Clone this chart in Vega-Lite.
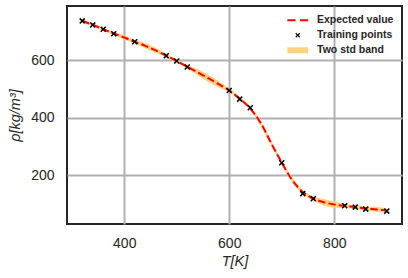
{
  "$schema": "https://vega.github.io/schema/vega-lite/v6.json",
  "width": 335,
  "height": 218,
  "autosize": {"type": "none"},
  "padding": {"left": 67, "top": 6, "right": 6, "bottom": 54},
  "background": "white",
  "config": {
    "font": "Liberation Sans",
    "view": {"stroke": "#262626", "strokeWidth": 2},
    "axis": {
      "gridColor": "#b0b0b0",
      "gridWidth": 2,
      "tickSize": 0,
      "domainColor": "transparent",
      "labelFontSize": 14,
      "labelColor": "#262626",
      "titleFontSize": 14.5,
      "titleFontWeight": "normal",
      "titleFontStyle": "italic",
      "titleColor": "#262626"
    }
  },
  "datasets": {
    "curve": [
      {"T": 320, "mean": 738, "lo": 733, "hi": 743},
      {"T": 340, "mean": 724, "lo": 719, "hi": 729},
      {"T": 360, "mean": 709, "lo": 704, "hi": 714},
      {"T": 380, "mean": 694, "lo": 689, "hi": 699},
      {"T": 400, "mean": 680, "lo": 672, "hi": 688},
      {"T": 420, "mean": 665, "lo": 659, "hi": 671},
      {"T": 440, "mean": 651, "lo": 642, "hi": 660},
      {"T": 460, "mean": 635, "lo": 626, "hi": 644},
      {"T": 480, "mean": 617, "lo": 611, "hi": 623},
      {"T": 500, "mean": 598, "lo": 592, "hi": 604},
      {"T": 520, "mean": 578, "lo": 572, "hi": 584},
      {"T": 540, "mean": 558, "lo": 547, "hi": 569},
      {"T": 560, "mean": 538, "lo": 525, "hi": 551},
      {"T": 580, "mean": 517, "lo": 506, "hi": 528},
      {"T": 600, "mean": 495, "lo": 489, "hi": 501},
      {"T": 620, "mean": 466, "lo": 460, "hi": 472},
      {"T": 640, "mean": 432, "lo": 426, "hi": 438},
      {"T": 660, "mean": 381, "lo": 372, "hi": 390},
      {"T": 680, "mean": 311, "lo": 302, "hi": 320},
      {"T": 700, "mean": 243, "lo": 236, "hi": 250},
      {"T": 720, "mean": 182, "lo": 173, "hi": 191},
      {"T": 740, "mean": 141, "lo": 134, "hi": 148},
      {"T": 760, "mean": 118, "lo": 111, "hi": 125},
      {"T": 780, "mean": 105, "lo": 94, "hi": 116},
      {"T": 800, "mean": 97, "lo": 86, "hi": 108},
      {"T": 820, "mean": 92, "lo": 85, "hi": 99},
      {"T": 840, "mean": 88, "lo": 81, "hi": 95},
      {"T": 860, "mean": 83, "lo": 76, "hi": 90},
      {"T": 880, "mean": 80, "lo": 71, "hi": 89},
      {"T": 900, "mean": 76, "lo": 69, "hi": 83}
    ],
    "points": [
      {"T": 320, "rho": 738, "series": "Training points"},
      {"T": 340, "rho": 724, "series": "Training points"},
      {"T": 360, "rho": 709, "series": "Training points"},
      {"T": 380, "rho": 693, "series": "Training points"},
      {"T": 420, "rho": 665, "series": "Training points"},
      {"T": 480, "rho": 616, "series": "Training points"},
      {"T": 500, "rho": 598, "series": "Training points"},
      {"T": 520, "rho": 577, "series": "Training points"},
      {"T": 600, "rho": 495, "series": "Training points"},
      {"T": 620, "rho": 465, "series": "Training points"},
      {"T": 640, "rho": 435, "series": "Training points"},
      {"T": 700, "rho": 243, "series": "Training points"},
      {"T": 740, "rho": 135, "series": "Training points"},
      {"T": 760, "rho": 117, "series": "Training points"},
      {"T": 820, "rho": 93, "series": "Training points"},
      {"T": 840, "rho": 88, "series": "Training points"},
      {"T": 860, "rho": 81, "series": "Training points"},
      {"T": 900, "rho": 74, "series": "Training points"}
    ]
  },
  "encoding": {
    "x": {
      "field": "T",
      "type": "quantitative",
      "scale": {"domain": [291, 929], "nice": false, "zero": false},
      "axis": {"values": [400, 600, 800], "grid": true, "title": "T[K]", "labelPadding": 12, "titlePadding": 4}
    }
  },
  "layer": [
    {
      "data": {"name": "curve"},
      "mark": {"type": "area", "interpolate": "monotone", "fill": "#ffd27f", "opacity": 1},
      "encoding": {
        "y": {
          "field": "lo",
          "type": "quantitative",
          "scale": {"domain": [29, 790], "nice": false, "zero": false},
          "axis": {"values": [200, 400, 600], "grid": true, "title": "ρ[kg/m³]", "labelPadding": 13, "titlePadding": 8}
        },
        "y2": {"field": "hi"}
      }
    },
    {
      "data": {"name": "curve"},
      "mark": {"type": "line", "interpolate": "monotone", "stroke": "#ff0000", "strokeWidth": 2, "strokeDash": [7.4, 3.2]},
      "encoding": {
        "y": {"field": "mean", "type": "quantitative"}
      }
    },
    {
      "data": {"name": "points"},
      "mark": {"type": "point", "filled": true, "opacity": 1, "size": 100, "strokeWidth": 0},
      "encoding": {
        "y": {"field": "rho", "type": "quantitative"},
        "color": {
          "field": "series",
          "type": "nominal",
          "scale": {
            "domain": ["Expected value", "Training points", "Two std band"],
            "range": ["#ff0000", "#000000", "#ffd27f"]
          },
          "legend": {
            "title": null,
            "orient": "none",
            "legendX": 225.5,
            "legendY": 9,
            "padding": 0,
            "symbolSize": 64,
            "symbolStrokeWidth": 0,
            "symbolOpacity": 1,
            "labelOffset": 14,
            "labelFontSize": 10.5,
            "labelFontWeight": "bold",
            "labelColor": "#262626",
            "rowPadding": 4
          }
        },
        "shape": {
          "field": "series",
          "type": "nominal",
          "scale": {
            "domain": ["Expected value", "Training points", "Two std band"],
            "range": [
              "M-2.6,-0.25H-0.55V0.25H-2.6Z M0.55,-0.25H2.6V0.25H0.55Z",
              "M-0.394,0.606L0,0.212L0.394,0.606L0.606,0.394L0.212,0L0.606,-0.394L0.394,-0.606L0,-0.212L-0.394,-0.606L-0.606,-0.394L-0.212,0L-0.606,0.394Z",
              "M-2.6,-0.75H2.6V0.75H-2.6Z"
            ]
          },
          "legend": {
            "title": null,
            "orient": "none",
            "legendX": 225.5,
            "legendY": 9,
            "padding": 0,
            "symbolSize": 64,
            "symbolStrokeWidth": 0,
            "labelOffset": 14,
            "labelFontSize": 10.5,
            "labelFontWeight": "bold",
            "labelColor": "#262626",
            "rowPadding": 4
          }
        }
      }
    }
  ]
}
